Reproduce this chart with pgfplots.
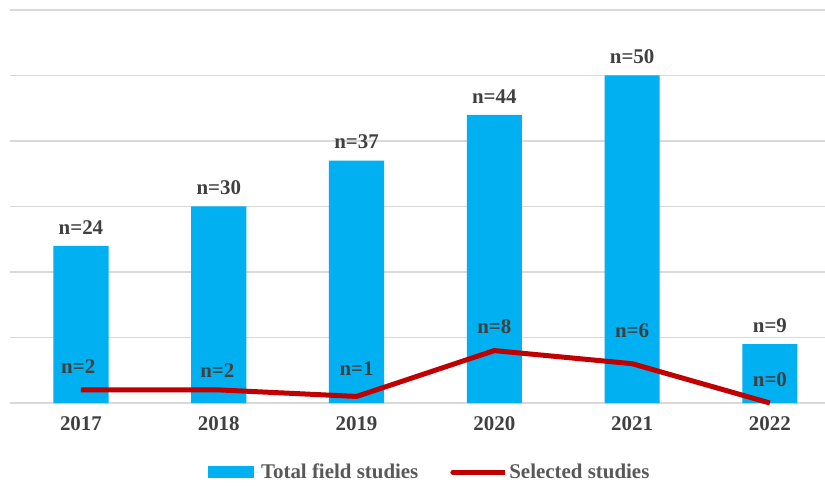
\documentclass[border=0pt]{standalone}
\usepackage{pgfplots}
\pgfplotsset{compat=1.18}
\usepackage{fontspec}
\setmainfont{Liberation Serif}
\definecolor{barblue}{HTML}{00B0F0}
\definecolor{linered}{HTML}{C00000}
\definecolor{txt}{HTML}{404040}
\definecolor{legtxt}{HTML}{595959}
\definecolor{gridc}{HTML}{D9D9D9}
\begin{document}
\begin{tikzpicture}
\begin{axis}[
  at={(0,0)}, anchor=south west,
  scale only axis, width=815bp, height=393bp,
  xmin=-0.515, xmax=5.40, ymin=0, ymax=60,
  axis line style={draw=none},
  xtick={0,1,2,3,4,5},
  xticklabels={2017,2018,2019,2020,2021,2022},
  ytick={0,10,...,60}, yticklabels={},
  ymajorgrids, grid style={gridc, line width=1.2pt},
  major tick length=0,
  /pgf/number format/assume math mode=true,
  tick label style={font=\fontsize{21}{25}\selectfont\bfseries, text=txt},
  xticklabel style={yshift=-10bp},
  clip=false,
  legend style={at={(0.515,-0.176)}, anchor=center, draw=none, fill=none,
    font=\fontsize{21}{25}\selectfont\bfseries, text=legtxt,
    /tikz/every even column/.append style={column sep=30bp}},
  legend columns=-1,
]
\addplot[ybar, bar width=0.4, fill=barblue, draw=none,
  nodes near coords={n=\pgfmathprintnumber{\pgfplotspointmeta}},
  every node near coord/.append style={font=\fontsize{21}{25}\selectfont\bfseries, text=txt, yshift=8bp},
  legend image code/.code={\fill[barblue] (0bp,-6bp) rectangle (46bp,6bp); \path (0bp,0bp) -- (51bp,0bp);}]
  coordinates {(0,24) (1,30) (2,37) (3,44) (4,50) (5,9)};
\addlegendentry{Total field studies}
\addplot[linered, line width=5bp, line join=round, mark=none,
  legend image code/.code={\draw[linered, line width=5bp, line cap=round] (0bp,0bp) -- (48bp,0bp); \path (0bp,0bp) -- (52bp,0bp);}]
  coordinates {(0,2) (1,2) (2,1) (3,8) (4,6) (5,0)};
\addlegendentry{Selected studies}
\addplot[draw=none, mark=none, forget plot,
  nodes near coords, point meta=explicit symbolic,
  every node near coord/.append style={anchor=center, font=\fontsize{21}{25}\selectfont\bfseries, text=txt}]
  coordinates {(-0.02,5.5) [n=2] (0.99,5.0) [n=2] (2,5.2) [n=1] (3,11.7) [n=8] (4,11.0) [n=6] (5,3.6) [n=0]};
\coordinate (bl) at (rel axis cs:0,0);
\coordinate (tr) at (rel axis cs:1,1);
\end{axis}
\pgfresetboundingbox
\path[use as bounding box] ([xshift=-10bp,yshift=-83bp]bl) rectangle ([yshift=10bp]tr);
\end{tikzpicture}
\end{document}
